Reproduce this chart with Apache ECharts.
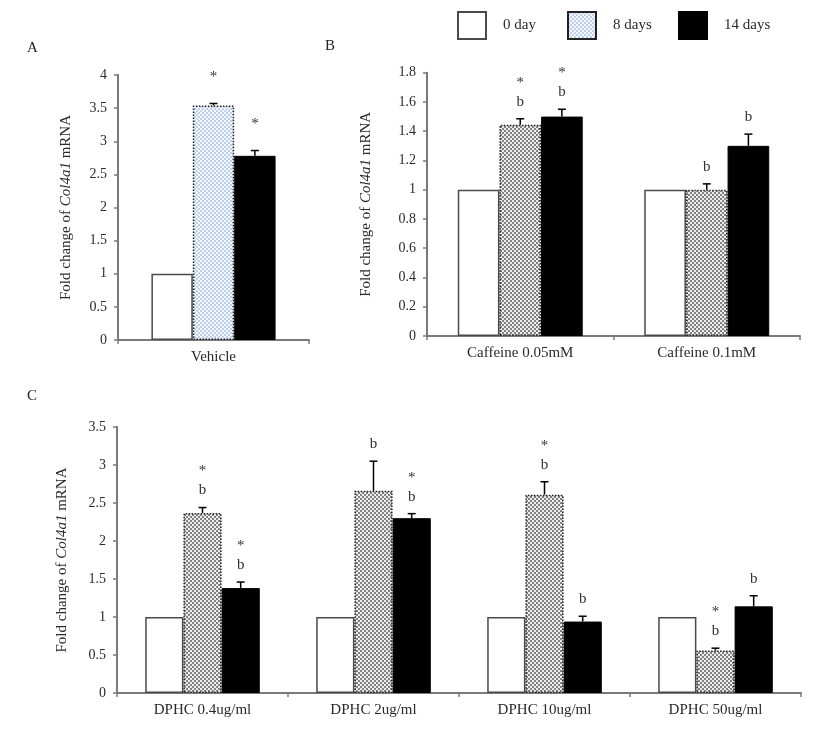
<!DOCTYPE html>
<html>
<head>
<meta charset="utf-8">
<script src="https://cdn.jsdelivr.net/npm/echarts@6/dist/echarts.min.js"></script>
<style>
html,body{margin:0;padding:0;background:#fff;}
#chart{width:827px;height:731px;}
</style>
</head>
<body>
<div id="chart"></div>
<script>
// ---------- data ----------
const seriesNames = ['0 day', '8 days', '14 days'];

const catsA = ['Vehicle'];
const a_day0 = [1];
const a_day8 = [3.54];
const a_err8 = [0.03];
const a_day14 = [2.78];
const a_err14 = [0.08];
const a_ann8 = ['*'];
const a_ann14 = ['*'];

const catsB = ['Caffeine 0.05mM', 'Caffeine 0.1mM'];
const b_day0 = [1, 1];
const b_day8 = [1.445, 1.0];
const b_err8 = [0.04, 0.04];
const b_day14 = [1.50, 1.30];
const b_err14 = [0.05, 0.08];
const b_ann8 = ['*b', 'b'];
const b_ann14 = ['*b', 'b'];

const catsC = ['DPHC 0.4ug/ml', 'DPHC 2ug/ml', 'DPHC 10ug/ml', 'DPHC 50ug/ml'];
const c_day0 = [1, 1, 1, 1];
const c_day8 = [2.37, 2.66, 2.61, 0.56];
const c_err8 = [0.07, 0.39, 0.17, 0.03];
const c_day14 = [1.38, 2.30, 0.94, 1.14];
const c_err14 = [0.08, 0.06, 0.07, 0.14];
const c_ann8 = ['*b', 'b', '*b', '*b'];
const c_ann14 = ['*b', '*b', 'b', 'b'];

const yTicksA = {min: 0, max: 4, interval: 0.5};
const yTicksB = {min: 0, max: 1.8, interval: 0.2};
const yTicksC = {min: 0, max: 3.5, interval: 0.5};

// ---------- styles ----------
const FONT = "'Liberation Serif', 'Times New Roman', serif";
const TXT = '#2a2a2a';
const AXIS = '#7a7a7a';

function makePattern(bg, dot) {
  const c = document.createElement('canvas');
  c.width = 4; c.height = 4;
  const ctx = c.getContext('2d');
  ctx.fillStyle = bg; ctx.fillRect(0, 0, 4, 4);
  ctx.fillStyle = dot;
  ctx.fillRect(0, 0, 2, 2);
  ctx.fillRect(2, 2, 2, 2);
  return c;
}
const bluePat = {image: makePattern('#bfd1ea', '#f4f8fd'), repeat: 'repeat'};
const grayPat = {image: makePattern('#828282', '#ededed'), repeat: 'repeat'};

const whiteStyle = {color: '#fff', borderColor: '#4a4a4a', borderWidth: 1.5};
const blackStyle = {color: '#000', borderColor: '#000', borderWidth: 1};
function midStyle(pat) {
  return {color: pat, borderColor: '#222', borderWidth: 1.5, borderType: 'dotted'};
}

function barSeries(idx, day0, day8, day14, pat, gap) {
  const common = {type: 'bar', xAxisIndex: idx, yAxisIndex: idx, barGap: '0%', barCategoryGap: gap, silent: true};
  return [
    Object.assign({name: seriesNames[0], data: day0, itemStyle: whiteStyle}, common),
    Object.assign({name: seriesNames[1], data: day8, itemStyle: midStyle(pat)}, common),
    Object.assign({name: seriesNames[2], data: day14, itemStyle: blackStyle}, common)
  ];
}

function errSeries(idx, day8, err8, ann8, day14, err14, ann14, gapFrac, starOnly) {
  const data = [], ann = [];
  for (let i = 0; i < day8.length; i++) {
    data.push([i, day8[i] + err8[i], day8[i], 0]); ann.push(ann8[i]);
    data.push([i, day14[i] + err14[i], day14[i], 1]); ann.push(ann14[i]);
  }
  return {
    type: 'custom', xAxisIndex: idx, yAxisIndex: idx, silent: true, z: 5,
    data: data,
    renderItem: function (params, api) {
      const cat = api.value(0), top = api.value(1), mean = api.value(2), slot = api.value(3);
      const band = api.size([1, 0])[0];
      const bw = band * (1 - gapFrac) / 3;
      const pt = api.coord([cat, top]);
      const pm = api.coord([cat, mean]);
      const x = pt[0] + (slot === 0 ? 0 : bw);
      const y = pt[1];
      const children = [
        {type: 'line', shape: {x1: x, y1: pm[1], x2: x, y2: y}, style: {stroke: '#000', lineWidth: 1.5}},
        {type: 'line', shape: {x1: x - 4, y1: y, x2: x + 4, y2: y}, style: {stroke: '#000', lineWidth: 1.5}}
      ];
      const a = ann[params.dataIndex] || '';
      const tstyle = function (t) {
        return {text: t, fill: '#333', font: '15px ' + FONT, textAlign: 'center', textVerticalAlign: 'middle', align: 'center', verticalAlign: 'middle'};
      };
      if (a.indexOf('b') >= 0) {
        children.push({type: 'text', x: x, y: y - 17, style: tstyle('b')});
        if (a.indexOf('*') >= 0) children.push({type: 'text', x: x, y: y - 36, style: tstyle('*')});
      } else if (a.indexOf('*') >= 0) {
        children.push({type: 'text', x: x, y: y - starOnly, style: tstyle('*')});
      }
      return {type: 'group', children: children};
    }
  };
}

function xAxis(idx, cats) {
  return {
    type: 'category', gridIndex: idx, data: cats,
    axisLine: {lineStyle: {color: AXIS, width: 2}},
    axisTick: {show: true, length: 4, lineStyle: {color: AXIS, width: 1.5}},
    axisLabel: {color: TXT, fontFamily: FONT, fontSize: 15, margin: 10}
  };
}
function yAxis(idx, t, gap) {
  return {
    type: 'value', gridIndex: idx, min: t.min, max: t.max, interval: t.interval,
    name: 'Fold change of {i|Col4a1} mRNA', nameLocation: 'middle', nameGap: gap, nameRotate: 90,
    nameTextStyle: {color: TXT, fontFamily: FONT, fontSize: 15,
      rich: {i: {fontStyle: 'italic', color: TXT, fontFamily: FONT, fontSize: 15}}},
    axisLine: {show: true, lineStyle: {color: AXIS, width: 2}},
    axisTick: {show: true, length: 4, lineStyle: {color: AXIS, width: 1.5}},
    splitLine: {show: false},
    axisLabel: {color: TXT, fontFamily: FONT, fontSize: 14, margin: 11}
  };
}

function legendItem(name, left) {
  return {
    data: [name], left: left, top: 11, padding: 0, itemWidth: 28, itemHeight: 27, icon: 'rect',
    selectedMode: false,
    itemStyle: {borderWidth: 2},
    textStyle: {color: TXT, fontFamily: FONT, fontSize: 15, padding: [0, 0, 0, 12]}
  };
}

const chart = echarts.init(document.getElementById('chart'), null, {renderer: 'canvas'});
chart.setOption({
  backgroundColor: '#fff',
  animation: false,
  textStyle: {fontFamily: FONT},
  legend: [legendItem('0 day', 457), legendItem('8 days', 567), legendItem('14 days', 678)],
  graphic: [
    {type: 'text', left: 27, top: 41, style: {text: 'A', font: '15px ' + FONT, fill: '#222'}},
    {type: 'text', left: 325, top: 39, style: {text: 'B', font: '15px ' + FONT, fill: '#222'}},
    {type: 'text', left: 27, top: 389, style: {text: 'C', font: '15px ' + FONT, fill: '#222'}}
  ],
  grid: [
    {left: 118, top: 75, width: 191, height: 265},
    {left: 427, top: 72.7, width: 373, height: 263.3},
    {left: 117, top: 427, width: 684, height: 266}
  ],
  xAxis: [xAxis(0, catsA), xAxis(1, catsB), xAxis(2, catsC)],
  yAxis: [yAxis(0, yTicksA, 44), yAxis(1, yTicksB, 53), yAxis(2, yTicksC, 47)],
  series: [].concat(
    barSeries(0, a_day0, a_day8, a_day14, bluePat, '35%'),
    barSeries(1, b_day0, b_day8, b_day14, grayPat, '33%'),
    barSeries(2, c_day0, c_day8, c_day14, grayPat, '33%'),
    [
      errSeries(0, a_day8, a_err8, a_ann8, a_day14, a_err14, a_ann14, 0.35, 26),
      errSeries(1, b_day8, b_err8, b_ann8, b_day14, b_err14, b_ann14, 0.33, 26),
      errSeries(2, c_day8, c_err8, c_ann8, c_day14, c_err14, c_ann14, 0.33, 26)
    ]
  )
});
</script>
</body>
</html>
